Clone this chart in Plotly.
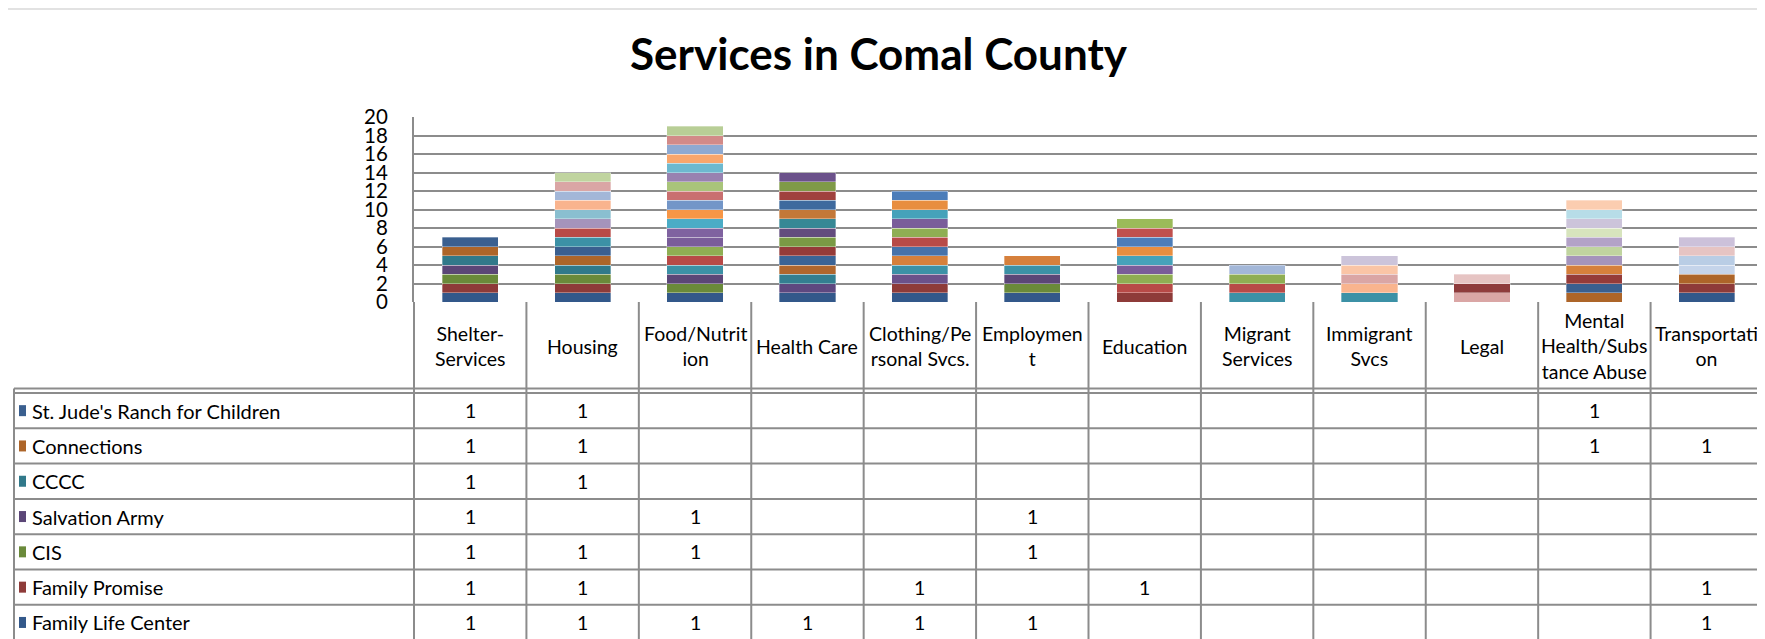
import plotly.graph_objects as go

# page is 1765x639; the browser adds an 8 px body margin, so the figure is 8 px smaller
PAGE_W, PAGE_H, OFF = 1765, 639, 8
W, H = PAGE_W - OFF, PAGE_H - OFF

# ---------------- data ----------------
categories = ["Shelter-Services", "Housing", "Food/Nutrition", "Health Care",
              "Clothing/Personal Svcs.", "Employment", "Education", "Migrant Services",
              "Immigrant Svcs", "Legal", "Mental Health/Substance Abuse", "Transportation"]
category_labels = ["Shelter-<br>Services", "Housing", "Food/Nutrit<br>ion", "Health Care",
                   "Clothing/Pe<br>rsonal Svcs.", "Employmen<br>t", "Education",
                   "Migrant<br>Services", "Immigrant<br>Svcs", "Legal",
                   "Mental<br>Health/Subs<br>tance Abuse", "Transportati<br>on"]
y_ticks = [0, 2, 4, 6, 8, 10, 12, 14, 16, 18, 20]

# organisations visible in the data table (table order, top to bottom)
table_orgs = ["St. Jude's Ranch for Children", "Connections", "CCCC", "Salvation Army",
              "CIS", "Family Promise", "Family Life Center"]
st_jude            = [1, 1, 0, 0, 0, 0, 0, 0, 0, 0, 1, 0]
connections        = [1, 1, 0, 0, 0, 0, 0, 0, 0, 0, 1, 1]
cccc               = [1, 1, 0, 0, 0, 0, 0, 0, 0, 0, 0, 0]
salvation_army     = [1, 0, 1, 0, 0, 1, 0, 0, 0, 0, 0, 0]
cis                = [1, 1, 1, 0, 0, 1, 0, 0, 0, 0, 0, 0]
family_promise     = [1, 1, 0, 0, 1, 0, 1, 0, 0, 0, 0, 1]
family_life_center = [1, 1, 1, 1, 1, 1, 0, 0, 0, 0, 0, 1]
table_values = [st_jude, connections, cccc, salvation_army, cis, family_promise, family_life_center]

# further providers stacked above (their table rows are cut off in the picture), bottom to top
hidden_values = [
    [0,0,0,1,0,0,0,0,0,0,0,0], [0,0,0,1,0,0,0,0,0,0,0,0], [0,0,0,1,0,0,0,0,0,0,0,0],
    [0,0,0,1,0,0,0,0,0,0,0,0], [0,0,0,1,0,0,0,0,0,0,1,0], [0,0,0,1,0,0,0,0,0,0,0,0],
    [0,0,0,1,0,0,0,0,0,0,0,0], [0,0,0,1,0,0,0,0,0,0,0,0], [0,0,0,1,0,0,0,0,0,0,0,0],
    [0,0,0,1,0,0,0,0,0,0,0,0], [0,0,0,1,0,0,0,0,0,0,0,0], [0,0,0,1,0,0,0,0,0,0,0,0],
    [0,0,0,1,1,0,0,0,0,0,0,0],
    [0,1,1,0,1,1,0,1,1,0,0,0], [0,0,0,0,1,1,0,0,0,0,1,0], [0,0,0,0,1,0,0,0,0,0,0,0],
    [0,1,1,0,1,0,1,1,0,0,0,0], [0,0,1,0,1,0,1,1,0,0,0,0], [0,0,1,0,1,0,1,0,0,0,0,0],
    [0,0,0,0,1,0,1,0,0,0,0,0], [0,0,0,0,1,0,1,0,0,0,0,0], [0,0,0,0,1,0,1,0,0,0,0,0],
    [0,0,0,0,0,0,1,0,0,0,0,0], [0,0,0,0,0,0,1,0,0,0,0,0],
    [0,0,1,0,0,0,0,0,0,0,0,0], [0,0,1,0,0,0,0,0,0,0,0,0], [0,0,1,0,0,0,0,0,0,0,0,0],
    [0,0,1,0,0,0,0,0,0,0,0,0], [0,0,1,0,0,0,0,0,0,0,0,0], [0,0,1,0,0,0,0,0,0,0,0,0],
    [0,0,1,0,0,0,0,0,0,0,0,0], [0,0,1,0,0,0,0,0,0,0,0,0], [0,0,1,0,0,0,0,0,0,0,0,0],
    [0,0,1,0,0,0,0,0,0,0,0,0], [0,0,1,0,0,0,0,0,0,0,0,0], [0,0,1,0,0,0,0,0,0,0,0,0],
    [0,1,0,0,0,0,0,0,0,0,1,0], [0,1,0,0,0,0,0,0,0,0,0,0], [0,1,0,0,0,0,0,0,1,0,0,0],
    [0,1,0,0,0,0,0,1,0,0,0,0], [0,1,0,0,0,0,0,0,1,1,0,0], [0,1,0,0,0,0,0,0,0,0,1,0],
    [0,0,0,0,0,0,0,0,0,0,1,0], [0,0,0,0,0,0,0,0,1,0,0,0], [0,0,0,0,0,0,0,0,0,0,0,1],
    [0,0,0,0,0,0,0,0,0,1,0,0], [0,0,0,0,0,0,0,0,0,0,1,0], [0,0,0,0,0,0,0,0,1,0,1,0],
    [0,0,0,0,0,0,0,0,0,0,1,0], [0,0,0,0,0,0,0,0,0,0,1,0], [0,0,0,0,0,0,0,0,0,0,0,1],
    [0,0,0,0,0,0,0,0,0,1,0,1], [0,0,0,0,0,0,0,0,0,0,0,1],
]

# ---------------- styles ----------------
table_colors = ["#3A5F8F", "#AD6529", "#31798A", "#5B4677", "#6A8A3A", "#8E3B39", "#33588A"]
hidden_colors = [
    "#5E4880", "#337F91", "#B0672E", "#3B6496", "#953B39", "#7A9A45",
    "#634C7E", "#378895", "#C47838", "#3E6A9E", "#A0413E", "#7F9A48",
    "#6B518A",
    "#3C91A6", "#D6803C", "#4672AA", "#B84A47", "#8FAE53", "#7A5D9A",
    "#46A2BA", "#E88E40", "#4C7DB9", "#C0504D", "#9BBB59",
    "#7F62A0", "#4BACC6", "#F79646", "#7396C8", "#C97070", "#A9C47A",
    "#9882B0", "#6DB9CF", "#F9A66C", "#8EA9D1", "#D28A88", "#B8CE96",
    "#A594BB", "#8ABFD0", "#F9B48E", "#A3B7D8", "#DAA6A5", "#C0D49F",
    "#B3A2C7", "#FAC5A6", "#C5D4EA", "#8E3B3B", "#D7E4BD", "#CCC4DA",
    "#B7DDE8", "#FBCDB0", "#B9CDE5", "#E6C4C3", "#CCC1DA",
]
FONT = "Lato, 'Open Sans', sans-serif"
LINE = "#8C8C8C"

# positions below are page pixels
plot_left, plot_right, plot_top, plot_bottom = 414, 1763, 117, 302
col_w = (plot_right - plot_left) / len(categories)


def fx(x):
    return (x - OFF) / W


def fy(y):
    return 1 - (y - OFF) / H


fig = go.Figure()

# stacking order: bottom series first (table is listed top-of-stack first)
stack_names = list(reversed(table_orgs)) + [f"Provider {i + 8}" for i in range(len(hidden_values))]
stack_values = list(reversed(table_values)) + hidden_values
stack_colors = list(reversed(table_colors)) + hidden_colors

for name, vals, col in zip(stack_names, stack_values, stack_colors):
    fig.add_trace(go.Bar(
        x=categories, y=[v if v else None for v in vals], name=name,
        marker=dict(color=col, line=dict(color="rgba(255,255,255,0.55)", width=0.6)),
        showlegend=False,
    ))

shapes = []
annotations = []

# top border of the chart area
shapes.append(dict(type="line", xref="paper", yref="paper", x0=0, x1=1, y0=fy(9), y1=fy(9),
                   line=dict(color="#D9D9D9", width=1.5)))

# data table
hdr_line1, hdr_line2 = 388.5, 393
row_h = 35.3
table_left = 14
for yy in (hdr_line1, hdr_line2):
    shapes.append(dict(type="line", xref="paper", yref="paper", x0=fx(table_left), x1=fx(plot_right),
                       y0=fy(yy), y1=fy(yy), line=dict(color=LINE, width=2)))
for k in range(1, len(table_orgs) + 1):
    yy = hdr_line2 + row_h * k
    if yy < PAGE_H:
        shapes.append(dict(type="line", xref="paper", yref="paper", x0=fx(table_left), x1=fx(plot_right),
                           y0=fy(yy), y1=fy(yy), line=dict(color=LINE, width=2)))
shapes.append(dict(type="line", xref="paper", yref="paper", x0=fx(table_left), x1=fx(table_left),
                   y0=fy(hdr_line1), y1=0, line=dict(color=LINE, width=2)))
for i in range(len(categories) + 1):
    xx = plot_left + i * col_w
    shapes.append(dict(type="line", xref="paper", yref="paper", x0=fx(xx), x1=fx(xx),
                       y0=fy(plot_bottom), y1=0, line=dict(color=LINE, width=2)))

# header labels
for i, lab in enumerate(category_labels):
    annotations.append(dict(xref="paper", yref="paper", x=fx(plot_left + (i + 0.5) * col_w), y=fy(346),
                            text=lab, showarrow=False, xanchor="center", yanchor="middle", align="center",
                            font=dict(family=FONT, size=19.5, color="#000000")))

# rows
for r, (org, vals, col) in enumerate(zip(table_orgs, table_values, table_colors)):
    yc = hdr_line2 + row_h * (r + 0.5)
    shapes.append(dict(type="rect", xref="paper", yref="paper", x0=fx(19), x1=fx(26),
                       y0=fy(yc - 5.5), y1=fy(yc + 5.5), fillcolor=col, line=dict(width=0)))
    annotations.append(dict(xref="paper", yref="paper", x=fx(30), y=fy(yc), text=org, showarrow=False,
                            xanchor="left", yanchor="middle", font=dict(family=FONT, size=20, color="#000000")))
    for i, v in enumerate(vals):
        if v:
            annotations.append(dict(xref="paper", yref="paper", x=fx(plot_left + (i + 0.5) * col_w), y=fy(yc),
                                    text=str(v), showarrow=False, xanchor="center", yanchor="middle",
                                    font=dict(family=FONT, size=19.5, color="#000000")))

fig.update_layout(
    width=W, height=H,
    margin=dict(l=0, r=0, t=0, b=0),
    paper_bgcolor="white", plot_bgcolor="white",
    barmode="stack", bargap=0.5,
    template="none",
    title=dict(text="<b>Services in Comal County</b>", x=fx(PAGE_W / 2 - 4), xref="paper", xanchor="center",
               y=fy(55), yref="paper", yanchor="middle",
               font=dict(family=FONT, size=44, color="#000000")),
    xaxis=dict(domain=[fx(plot_left), fx(plot_right)], showticklabels=False, showgrid=False,
               zeroline=False, showline=False, ticks=""),
    yaxis=dict(domain=[fy(plot_bottom), fy(plot_top)], range=[0, 20], tickvals=y_ticks,
               showgrid=True, gridcolor=LINE, gridwidth=2, zeroline=False,
               showline=True, linecolor=LINE, linewidth=2, ticks="", ticklabelstandoff=20,
               tickfont=dict(family=FONT, size=20.5, color="#000000")),
    shapes=shapes, annotations=annotations,
    font=dict(family=FONT),
)

fig.write_html("out.html")
